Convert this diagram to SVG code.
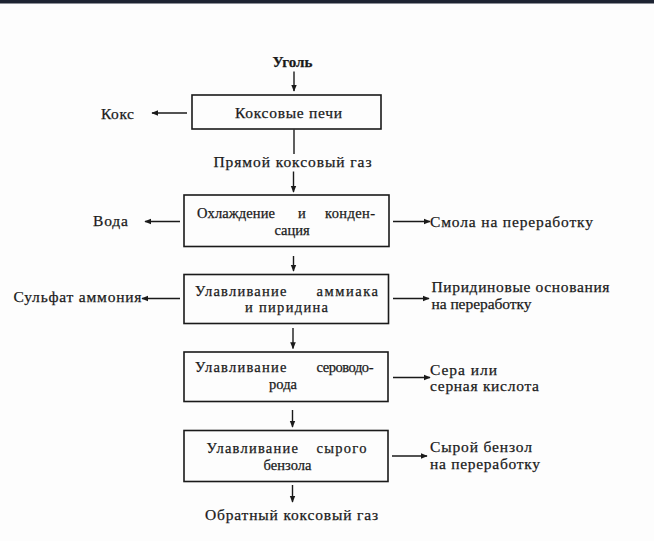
<svg xmlns="http://www.w3.org/2000/svg" width="654" height="541" viewBox="0 0 654 541">
<defs>
<marker id="ah" viewBox="0 0 10 10" refX="9" refY="5" markerWidth="7" markerHeight="7" markerUnits="userSpaceOnUse" orient="auto">
<path d="M0,1 L10,5 L0,9 Z" fill="#1a1a1a"/>
</marker>
<style>
text{font-family:"Liberation Serif","DejaVu Serif",serif;font-size:15.5px;fill:#1a1a1a;stroke:#1a1a1a;stroke-width:0.25}
.s{font-size:14.5px}
.b{font-weight:bold}
.box{fill:none;stroke:#1a1a1a;stroke-width:1.6}
.c{fill:none;stroke:#1a1a1a;stroke-width:1.4}
.a{marker-end:url(#ah)}
</style>
</defs>
<rect x="0" y="0" width="654" height="541" fill="#fdfdfd"/>
<rect x="0" y="0" width="654" height="3.5" fill="#1d2332"/>

<g id="coal"><text class="b" x="272.5" y="66.5" textLength="40" lengthAdjust="spacingAndGlyphs">Уголь</text></g>

<g id="ovens">
<rect class="box" x="192" y="95" width="189" height="34"/>
<text x="235" y="117.5" textLength="107" lengthAdjust="spacing">Коксовые печи</text>
</g>
<g id="coke"><text x="101" y="118.5" textLength="33" lengthAdjust="spacing">Кокс</text></g>

<g id="rawgas"><text x="213.5" y="166.5" textLength="158" lengthAdjust="spacing">Прямой коксовый газ</text></g>

<g id="cooling">
<rect class="box" x="184" y="195" width="205" height="51.5"/>
<text class="s" y="218"><tspan x="197" textLength="78" lengthAdjust="spacing">Охлаждение</tspan> <tspan x="298">и</tspan> <tspan x="325" textLength="50" lengthAdjust="spacing">конден-</tspan></text>
<text class="s" x="292" y="234.5" text-anchor="middle">сация</text>
</g>
<g id="water"><text x="93" y="226" textLength="35" lengthAdjust="spacing">Вода</text></g>
<g id="tar"><text x="430" y="226.5" textLength="163" lengthAdjust="spacing">Смола на переработку</text></g>

<g id="ammonia">
<rect class="box" x="184" y="274.5" width="204.5" height="49"/>
<text class="s" y="295.5"><tspan x="195" textLength="91.5" lengthAdjust="spacing">Улавливание</tspan> <tspan x="316.5" textLength="61.5" lengthAdjust="spacing">аммиака</tspan></text>
<text class="s" x="245" y="312" textLength="83" lengthAdjust="spacing">и пиридина</text>
</g>
<g id="sulfate"><text x="13.5" y="301.5" textLength="128" lengthAdjust="spacing">Сульфат аммония</text></g>
<g id="pyridine">
<text x="431.5" y="291.5" textLength="178" lengthAdjust="spacing">Пиридиновые основания</text>
<text x="431.5" y="308.5" textLength="100" lengthAdjust="spacing">на переработку</text>
</g>

<g id="h2s">
<rect class="box" x="184" y="352" width="204" height="49.5"/>
<text class="s" y="371.5"><tspan x="195" textLength="91.5" lengthAdjust="spacing">Улавливание</tspan> <tspan x="316.5" textLength="57" lengthAdjust="spacing">сероводо-</tspan></text>
<text class="s" x="283" y="388.5" text-anchor="middle">рода</text>
</g>
<g id="sulfur">
<text x="430" y="374.5" textLength="67" lengthAdjust="spacing">Сера или</text>
<text x="430" y="391" textLength="109" lengthAdjust="spacing">серная кислота</text>
</g>

<g id="benzene">
<rect class="box" x="184" y="430.5" width="204" height="51"/>
<text class="s" y="453"><tspan x="206.5" textLength="91.5" lengthAdjust="spacing">Улавливание</tspan> <tspan x="316.5" textLength="50" lengthAdjust="spacing">сырого</tspan></text>
<text class="s" x="287.5" y="469.5" text-anchor="middle">бензола</text>
</g>
<g id="crude">
<text x="430" y="451.5" textLength="102" lengthAdjust="spacing">Сырой бензол</text>
<text x="430" y="468.5" textLength="110" lengthAdjust="spacing">на переработку</text>
</g>

<g id="backgas"><text x="205" y="520" textLength="173" lengthAdjust="spacing">Обратный коксовый газ</text></g>

<g id="connectors">
<line class="c a" x1="294" y1="71.5" x2="294" y2="91"/>
<line class="c a" x1="187" y1="113" x2="152" y2="113"/>
<line class="c" x1="294" y1="129.5" x2="294" y2="154"/>
<line class="c a" x1="293.5" y1="171.5" x2="293.5" y2="192"/>
<line class="c a" x1="180" y1="221.5" x2="145" y2="221.5"/>
<line class="c a" x1="393" y1="221.5" x2="430" y2="221.5"/>
<line class="c a" x1="293.5" y1="256" x2="293.5" y2="271"/>
<line class="c a" x1="180" y1="298.5" x2="142" y2="298.5"/>
<line class="c a" x1="393" y1="298.5" x2="429" y2="298.5"/>
<line class="c a" x1="293" y1="328" x2="293" y2="348.5"/>
<line class="c a" x1="393" y1="377.5" x2="430" y2="377.5"/>
<line class="c a" x1="292.5" y1="410" x2="292.5" y2="427"/>
<line class="c a" x1="392" y1="456" x2="427" y2="456"/>
<line class="c a" x1="292.5" y1="485" x2="292.5" y2="502"/>
</g>
</svg>
